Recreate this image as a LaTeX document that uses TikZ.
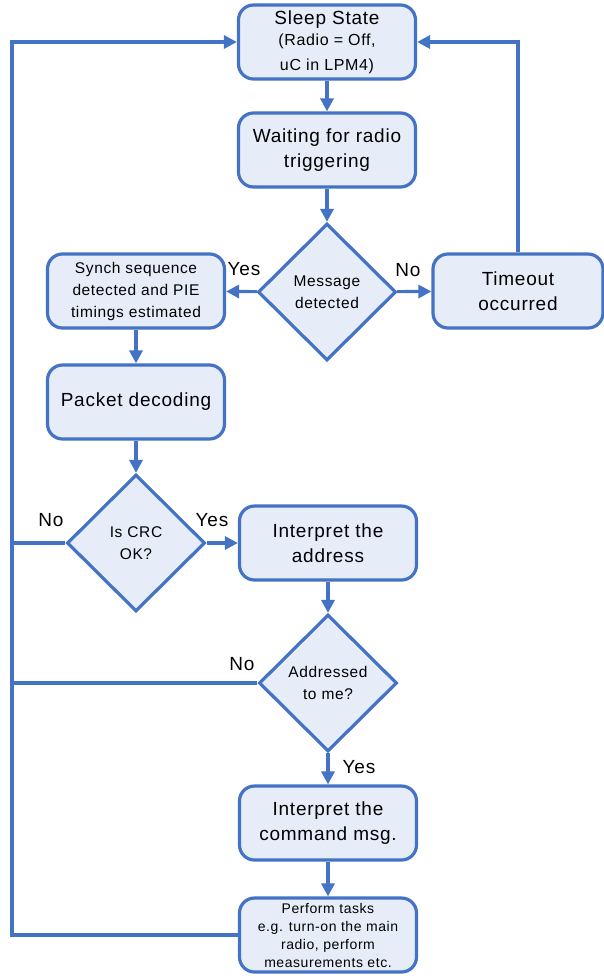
\documentclass[tikz,border=0pt]{standalone}
\usepackage{fontspec}
\setmainfont{Liberation Sans}[LetterSpace=4]
\usetikzlibrary{shapes.geometric,arrows.meta}
\definecolor{flowblue}{RGB}{68,114,196}
\definecolor{flowfill}{RGB}{231,237,248}
\begin{document}
\begin{tikzpicture}[x=1pt,y=-1pt,
    state/.style={draw=flowblue,fill=flowfill,line width=3.2pt,rounded corners=15pt,
      minimum width=177pt,minimum height=74pt,inner sep=1pt,align=center,
      font=\fontsize{19}{25}\selectfont},
    test/.style={draw=flowblue,fill=flowfill,line width=3.2pt,diamond,aspect=1,
      minimum width=138pt,minimum height=137pt,inner sep=0pt,align=center,
      font=\fontsize{15.5}{22}\selectfont},
    flow/.style={draw=flowblue,line width=3.2pt,-{Triangle[length=13pt,width=13pt]}},
    link/.style={draw=flowblue,line width=3.2pt},
    answer/.style={font=\fontsize{19}{21}\selectfont}]
      \useasboundingbox (0,0) rectangle (603,978);
      % boxes
      \node [state] (sleep) at (327,42) {Sleep State\\[-4pt]
        {\fontsize{16}{20}\selectfont (Radio = Off,}\\
        {\fontsize{16}{20}\selectfont uC in LPM4)}};
      \node [state] (wait) at (327,150) {Waiting for radio\\triggering};
      \node [state,font=\fontsize{15.5}{22}\selectfont] (synch) at (136,291)
        {Synch sequence\\detected and PIE\\timings estimated};
      \node [state,minimum width=170pt] (timeout) at (518,291) {Timeout\\occurred};
      \node [state] (packet) at (136,402) {Packet decoding};
      \node [state] (address) at (328,543) {Interpret the\\address};
      \node [state] (command) at (328,823) {Interpret the\\command msg.};
      \node [state,font=\fontsize{14}{18}\selectfont] (tasks) at (328,935)
        {Perform tasks\\e.g. turn-on the main\\radio, perform\\measurements etc.};
      % decisions
      \node [test] (msg) at (327,292) {Message\\detected};
      \node [test] (crc) at (136,543) {Is CRC\\OK?};
      \node [test] (me) at (328,683) {Addressed\\to me?};
      \coordinate (rail) at (12,0);
      % arrows
      \draw [flow] (sleep) -- (wait);
      \draw [flow] (wait) -- (msg);
      \draw [flow] (msg) -- (synch);
      \draw [flow] (msg) -- (timeout);
      \draw [flow] (timeout.north) |- (sleep.east);
      \draw [flow] (synch) -- (packet);
      \draw [flow] (packet) -- (crc);
      \draw [flow] (crc) -- (address);
      \draw [flow] (address) -- (me);
      \draw [flow] (me) -- (command);
      \draw [flow] (command) -- (tasks);
      \draw [flow] (tasks.west) -- (rail |- tasks.west) -- (rail |- sleep.west) -- (sleep.west);
      \draw [link] (crc.west) -- (rail |- crc.west);
      \draw [link] (me.west) -- (rail |- me.west);
      % labels
      \node [answer] (yes1) at (244,269) {Yes};
      \node [answer] (no1) at (408,270) {No};
      \node [answer] (no2) at (51,520) {No};
      \node [answer] (yes2) at (212,520) {Yes};
      \node [answer] (no3) at (242,664) {No};
      \node [answer] (yes3) at (359,767) {Yes};
\end{tikzpicture}
\end{document}
